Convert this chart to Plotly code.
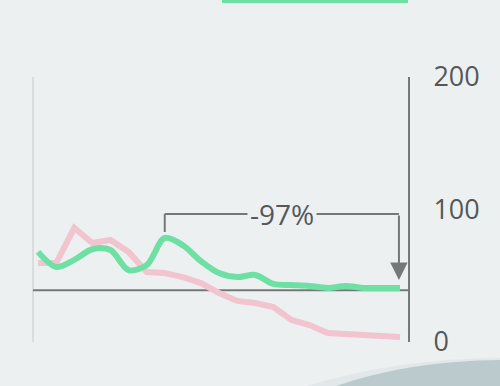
import plotly.graph_objects as go

# Two indexed series over 21 periods
periods = list(range(21))
green_values = [68, 56.6, 62, 70, 69.4, 54.3, 58, 78.5, 73, 61, 52, 49, 50.6,
                43.8, 43, 42.3, 40.8, 42.3, 40.8, 40.8, 40.8]
pink_values = [59.6, 59.6, 86, 74.7, 77, 68, 52.8, 52, 49, 44.5, 37, 31, 29.4,
               26.4, 16.6, 12.8, 6.8, 6, 5.3, 4.5, 3.8]
y_ticks = [0, 100, 200]
change_label = "-97%"
baseline_value = 39
bracket_start = 7
bracket_end = 19.94
bracket_top = 96.6
bracket_left_bottom = 83
arrow_tip = 46.8

GREEN = "#6fe0a3"
PINK = "#f1c4cf"
GRAY = "#767878"
TEXT = "#555858"
BG = "#edf0f1"

fig = go.Figure()
fig.add_trace(go.Scatter(x=periods, y=pink_values, mode="lines",
                         line=dict(color=PINK, width=6), hoverinfo="skip"))
fig.add_trace(go.Scatter(x=periods, y=green_values, mode="lines",
                         line=dict(color=GREEN, width=6, shape="spline", smoothing=0.9),
                         hoverinfo="skip"))

shapes = [
    # soft wave in the lower right corner
    dict(type="path", xref="paper", yref="paper", layer="below",
         path="M 0.72,-0.17 Q 0.97,-0.06 1.25,-0.06 L 1.25,-0.17 Z",
         fillcolor="rgba(215,224,225,0.5)", line=dict(width=0)),
    dict(type="path", xref="paper", yref="paper", layer="below",
         path="M 0.80,-0.17 Q 1.0,-0.07 1.25,-0.068 L 1.25,-0.17 Z",
         fillcolor="rgba(170,190,192,0.7)", line=dict(width=0)),
    # accent bar at the top
    dict(type="rect", xref="paper", yref="paper", x0=0.504, x1=1.0, y0=1.279, y1=1.291,
         fillcolor=GREEN, line=dict(width=0)),
    # light left frame line
    dict(type="line", xref="paper", yref="paper", x0=0, x1=0, y0=0, y1=1,
         line=dict(color="#dadddd", width=2), layer="below"),
    # baseline
    dict(type="line", xref="paper", yref="y", x0=0, x1=1, y0=baseline_value, y1=baseline_value,
         line=dict(color=GRAY, width=2), layer="below"),
    # bracket
    dict(type="line", x0=bracket_start, x1=bracket_start, y0=bracket_left_bottom, y1=bracket_top,
         line=dict(color=GRAY, width=2)),
    dict(type="line", x0=bracket_start, x1=bracket_end, y0=bracket_top, y1=bracket_top,
         line=dict(color=GRAY, width=2)),
]

annotations = [
    dict(x=bracket_end, y=arrow_tip, ax=bracket_end, ay=bracket_top, xref="x", yref="y",
         axref="x", ayref="y", showarrow=True, arrowhead=2, arrowsize=1.75, arrowwidth=2,
         arrowcolor=GRAY, text=""),
    dict(x=13.5, y=bracket_top, xref="x", yref="y", text=change_label, showarrow=False,
         font=dict(family="Open Sans", size=28, color=TEXT), bgcolor=BG, borderpad=2),
]

fig.update_layout(
    width=500, height=386,
    margin=dict(l=33, r=92, t=77, b=44),
    paper_bgcolor=BG, plot_bgcolor="rgba(0,0,0,0)",
    showlegend=False,
    shapes=shapes, annotations=annotations,
    xaxis=dict(range=[-0.28, 20.44], visible=False),
    yaxis=dict(range=[0, 200], side="right", tickvals=y_ticks,
               ticktext=[str(v) for v in y_ticks], showgrid=False, zeroline=False,
               showline=True, linecolor=GRAY, linewidth=2, ticks="",
               ticklabelstandoff=18,
               tickfont=dict(family="Open Sans", size=27, color=TEXT)),
)

fig.write_html("out.html")
